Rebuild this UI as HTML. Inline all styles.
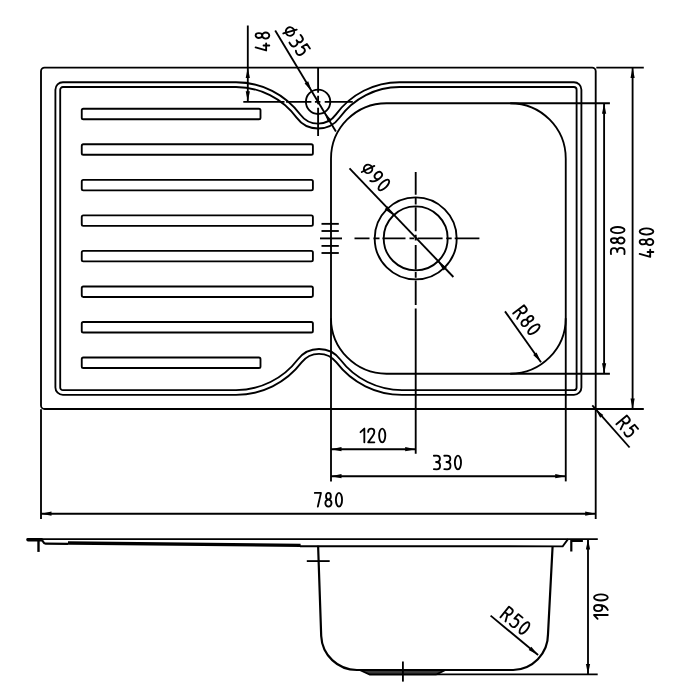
<!DOCTYPE html>
<html><head><meta charset="utf-8"><title>Sink drawing</title>
<style>
html,body{margin:0;padding:0;background:#fff;font-family:"Liberation Sans",sans-serif;}
svg{display:block}
svg *{fill:none;stroke:#000;stroke-width:1.85}
svg .f{fill:#000;stroke:none}
svg .w{stroke-width:2.2}
svg .t path{stroke-width:1.350;stroke-linecap:round;stroke-linejoin:round}
</style></head><body>
<svg width="700" height="700" viewBox="0 0 700 700">
<rect x="0" y="0" width="700" height="700" style="fill:#fff;stroke:none"/>
<path d="M44.60,67.60 L592.10,67.60 A3.60,3.60 0 0 1 595.70,71.20 L595.70,409.00 L44.60,409.00 A3.60,3.60 0 0 1 41.00,405.40 L41.00,71.20 A3.60,3.60 0 0 1 44.60,67.60 Z"/>
<rect x="331.00" y="103.20" width="234.75" height="270.50" rx="55.50" ry="55.50"/>
<path d="M55.40,89.70 A7.50,7.50 0 0 1 62.90,82.20 L236.00,82.20 A80.06,80.06 0 0 1 300.47,114.79 A21.90,21.90 0 0 0 335.82,114.66 A78.68,78.68 0 0 1 399.50,82.20 L573.90,82.20 A7.50,7.50 0 0 1 581.40,89.70 L581.40,387.40 A7.50,7.50 0 0 1 573.90,394.90 L402.00,394.90 A82.46,82.46 0 0 1 336.42,362.43 A21.90,21.90 0 0 0 301.58,362.43 A82.46,82.46 0 0 1 236.00,394.90 L62.90,394.90 A7.50,7.50 0 0 1 55.40,387.40 Z"/>
<path d="M60.20,89.70 A2.70,2.70 0 0 1 62.90,87.00 L236.00,87.00 A75.26,75.26 0 0 1 296.60,117.63 A26.70,26.70 0 0 0 339.71,117.48 A73.88,73.88 0 0 1 399.50,87.00 L573.90,87.00 A2.70,2.70 0 0 1 576.60,89.70 L576.60,387.40 A2.70,2.70 0 0 1 573.90,390.10 L402.00,390.10 A77.66,77.66 0 0 1 340.24,359.52 A26.70,26.70 0 0 0 297.76,359.52 A77.66,77.66 0 0 1 236.00,390.10 L62.90,390.10 A2.70,2.70 0 0 1 60.20,387.40 Z"/>
<rect x="81.75" y="108.75" width="178.75" height="10.5" rx="1.6" ry="1.6"/>
<rect x="81.75" y="144.29" width="231.15" height="10.5" rx="1.6" ry="1.6"/>
<rect x="81.75" y="179.83" width="231.15" height="10.5" rx="1.6" ry="1.6"/>
<rect x="81.75" y="215.37" width="231.15" height="10.5" rx="1.6" ry="1.6"/>
<rect x="81.75" y="250.91" width="231.15" height="10.5" rx="1.6" ry="1.6"/>
<rect x="81.75" y="286.45" width="231.15" height="10.5" rx="1.6" ry="1.6"/>
<rect x="81.75" y="321.99" width="231.15" height="10.5" rx="1.6" ry="1.6"/>
<rect x="81.75" y="357.53" width="178.75" height="10.5" rx="1.6" ry="1.6"/>
<circle cx="318.10" cy="101.80" r="12.2"/>
<path d="M243.30,101.80 L352.80,101.80" stroke-dasharray="41.2 1.6 25.3 3.5 5.5 4.3 100"/>
<path d="M318.10,67.60 L318.10,136.00" stroke-dasharray="25.1 3 8.6 3.4 100"/>
<circle cx="415.70" cy="238.40" r="41.0"/>
<circle cx="415.70" cy="238.40" r="32.0"/>
<path d="M354.50,238.40 L479.40,238.40" stroke-dasharray="15 4 6 3 23 4 4.7 3.4 25 3.6 5.5 3 100"/>
<path d="M415.70,171.90 L415.70,453.80" stroke-dasharray="22.8 2.9 6.8 2.9 24 3.4 5.9 4.5 24.6 2.3 5.7 2.9 24.5 3.5 300"/>
<path d="M321.50,223.85 L338.80,223.85"/>
<path d="M321.50,231.00 L338.80,231.00"/>
<path d="M320.00,238.40 L342.00,238.40"/>
<path d="M321.50,245.90 L338.80,245.90"/>
<path d="M321.50,253.00 L338.80,253.00"/>
<path d="M247.80,25.50 L247.80,101.80"/>
<path class="f" d="M247.80,67.60 L249.90,78.10 L245.70,78.10 Z"/>
<path class="f" d="M247.80,101.80 L245.70,91.30 L249.90,91.30 Z"/>
<g class="t" transform="translate(269.30,50.45) rotate(-90.00) scale(1.3700)"><path transform="translate(0.000,-10)" d="M2.2,0 L0,7.7 L5.2,7.7 M3.6,5.8 L3.6,10"/><path transform="translate(8.600,-10)" d="M2.25,4.8 A1.75,2.4 0 1 1 2.25,0 A1.75,2.4 0 1 1 2.25,4.8 A2.25,2.6 0 1 1 2.25,10 A2.25,2.6 0 1 1 2.25,4.8 Z"/></g>
<path d="M275.20,30.60 L335.90,131.40"/>
<path class="f" d="M311.80,91.35 L304.58,83.45 L308.17,81.28 Z"/>
<path class="f" d="M324.40,112.25 L331.62,120.15 L328.03,122.32 Z"/>
<g class="t" transform="translate(281.95,31.90) rotate(55.50) scale(1.3700)"><path transform="translate(0.000,-10)" d="M0,5 A3.1,3.1 0 1 1 6.2,5 A3.1,3.1 0 1 1 0,5 Z M4.72,0.16 L1.48,9.84"/><path transform="translate(9.500,-10)" d="M0,0.1 C0.5,0 1.2,0 2,0 C3.5,0 4.4,1 4.4,2.35 C4.4,3.7 3.5,4.7 1.6,4.7 C3.6,4.7 4.5,5.8 4.5,7.35 C4.5,9 3.5,10 2,10 C1.2,10 0.5,10 0,9.9"/><path transform="translate(17.100,-10)" d="M4.4,0 L0.5,0 L0.2,4.3 C0.9,3.7 1.6,3.5 2.3,3.5 C3.7,3.5 4.6,4.8 4.6,6.6 C4.6,8.6 3.7,10 2.2,10 C1.3,10 0.6,9.8 0,9.4"/></g>
<path d="M349.50,168.30 L453.40,277.00"/>
<path class="f" d="M393.47,215.38 L384.67,209.29 L387.69,206.37 Z"/>
<path class="f" d="M437.93,261.42 L446.73,267.51 L443.71,270.43 Z"/>
<g class="t" transform="translate(360.20,170.70) rotate(45.50) scale(1.3700)"><path transform="translate(0.000,-10)" d="M0,5 A3.1,3.1 0 1 1 6.2,5 A3.1,3.1 0 1 1 0,5 Z M4.72,0.16 L1.48,9.84"/><path transform="translate(9.500,-10)" d="M4.5,3 C4.5,4.8 3.6,6 2.25,6 C0.9,6 0,4.8 0,3 C0,1.2 0.9,0 2.25,0 C3.6,0 4.5,1.2 4.5,3 C4.5,6 3.5,8.8 0.9,10"/><path transform="translate(17.200,-10)" d="M0.1,5 A2.25,5 0 1 1 4.6,5 A2.25,5 0 1 1 0.1,5 Z"/></g>
<path d="M596.30,67.60 L643.80,67.60"/>
<path d="M595.70,409.00 L643.80,409.00"/>
<path d="M510.25,103.20 L609.90,103.20"/>
<path d="M510.25,373.70 L609.90,373.70"/>
<path d="M604.10,103.20 L604.10,373.70"/>
<path class="f" d="M604.10,103.20 L606.20,113.70 L602.00,113.70 Z"/>
<path class="f" d="M604.10,373.70 L602.00,363.20 L606.20,363.20 Z"/>
<path d="M632.60,67.60 L632.60,409.00"/>
<path class="f" d="M632.60,67.60 L634.70,78.10 L630.50,78.10 Z"/>
<path class="f" d="M632.60,409.00 L630.50,398.50 L634.70,398.50 Z"/>
<g class="t" transform="translate(624.55,254.10) rotate(-90.00) scale(1.3700)"><path transform="translate(0.000,-10)" d="M0,0.1 C0.5,0 1.2,0 2,0 C3.5,0 4.4,1 4.4,2.35 C4.4,3.7 3.5,4.7 1.6,4.7 C3.6,4.7 4.5,5.8 4.5,7.35 C4.5,9 3.5,10 2,10 C1.2,10 0.5,10 0,9.9"/><path transform="translate(7.600,-10)" d="M2.25,4.8 A1.75,2.4 0 1 1 2.25,0 A1.75,2.4 0 1 1 2.25,4.8 A2.25,2.6 0 1 1 2.25,10 A2.25,2.6 0 1 1 2.25,4.8 Z"/><path transform="translate(15.200,-10)" d="M0.1,5 A2.25,5 0 1 1 4.6,5 A2.25,5 0 1 1 0.1,5 Z"/></g>
<g class="t" transform="translate(653.35,256.90) rotate(-90.00) scale(1.3700)"><path transform="translate(0.000,-10)" d="M2.2,0 L0,7.7 L5.2,7.7 M3.6,5.8 L3.6,10"/><path transform="translate(8.600,-10)" d="M2.25,4.8 A1.75,2.4 0 1 1 2.25,0 A1.75,2.4 0 1 1 2.25,4.8 A2.25,2.6 0 1 1 2.25,10 A2.25,2.6 0 1 1 2.25,4.8 Z"/><path transform="translate(16.200,-10)" d="M0.1,5 A2.25,5 0 1 1 4.6,5 A2.25,5 0 1 1 0.1,5 Z"/></g>
<path d="M505.00,311.40 L541.00,362.30"/>
<path class="f" d="M541.00,362.30 L533.18,354.98 L536.60,352.54 Z"/>
<g class="t" transform="translate(513.20,313.60) rotate(52.50) scale(1.3700)"><path transform="translate(0.000,-10)" d="M0,10 L0,0 L2.4,0 C3.8,0 4.6,1 4.6,2.5 C4.6,4 3.8,5 2.4,5 L0,5 M2.6,5 L4.8,10"/><path transform="translate(8.300,-10)" d="M2.25,4.8 A1.75,2.4 0 1 1 2.25,0 A1.75,2.4 0 1 1 2.25,4.8 A2.25,2.6 0 1 1 2.25,10 A2.25,2.6 0 1 1 2.25,4.8 Z"/><path transform="translate(15.900,-10)" d="M0.1,5 A2.25,5 0 1 1 4.6,5 A2.25,5 0 1 1 0.1,5 Z"/></g>
<path d="M592.30,405.40 L629.60,447.50"/>
<path class="f" d="M595.90,409.80 L603.33,414.96 L600.20,417.76 Z"/>
<g class="t" transform="translate(616.40,424.30) rotate(50.00) scale(1.3700)"><path transform="translate(0.000,-10)" d="M0,10 L0,0 L2.4,0 C3.8,0 4.6,1 4.6,2.5 C4.6,4 3.8,5 2.4,5 L0,5 M2.6,5 L4.8,10"/><path transform="translate(8.300,-10)" d="M4.4,0 L0.5,0 L0.2,4.3 C0.9,3.7 1.6,3.5 2.3,3.5 C3.7,3.5 4.6,4.8 4.6,6.6 C4.6,8.6 3.7,10 2.2,10 C1.3,10 0.6,9.8 0,9.4"/></g>
<path d="M331.00,318.20 L331.00,481.40"/>
<path d="M565.75,318.20 L565.75,481.40"/>
<path d="M41.00,409.30 L41.00,519.00"/>
<path d="M595.70,409.00 L595.70,519.00"/>
<path d="M331.00,449.20 L415.70,449.20"/>
<path class="f" d="M331.00,449.20 L341.50,447.10 L341.50,451.30 Z"/>
<path class="f" d="M415.70,449.20 L405.20,451.30 L405.20,447.10 Z"/>
<g class="t" transform="translate(360.50,442.30) rotate(0.00) scale(1.3700)"><path transform="translate(0.000,-10)" d="M0,2.6 L2.8,0 L2.8,10"/><path transform="translate(5.600,-10)" d="M0,2.4 C0,0.9 1,0 2.25,0 C3.5,0 4.5,0.9 4.5,2.4 C4.5,3.6 4,4.5 3.2,5.6 L0,10 L4.5,10"/><path transform="translate(13.500,-10)" d="M0.1,5 A2.25,5 0 1 1 4.6,5 A2.25,5 0 1 1 0.1,5 Z"/></g>
<path d="M331.00,476.20 L565.75,476.20"/>
<path class="f" d="M331.00,476.20 L341.50,474.10 L341.50,478.30 Z"/>
<path class="f" d="M565.75,476.20 L555.25,478.30 L555.25,474.10 Z"/>
<g class="t" transform="translate(433.90,469.30) rotate(0.00) scale(1.3700)"><path transform="translate(0.000,-10)" d="M0,0.1 C0.5,0 1.2,0 2,0 C3.5,0 4.4,1 4.4,2.35 C4.4,3.7 3.5,4.7 1.6,4.7 C3.6,4.7 4.5,5.8 4.5,7.35 C4.5,9 3.5,10 2,10 C1.2,10 0.5,10 0,9.9"/><path transform="translate(7.600,-10)" d="M0,0.1 C0.5,0 1.2,0 2,0 C3.5,0 4.4,1 4.4,2.35 C4.4,3.7 3.5,4.7 1.6,4.7 C3.6,4.7 4.5,5.8 4.5,7.35 C4.5,9 3.5,10 2,10 C1.2,10 0.5,10 0,9.9"/><path transform="translate(15.200,-10)" d="M0.1,5 A2.25,5 0 1 1 4.6,5 A2.25,5 0 1 1 0.1,5 Z"/></g>
<path d="M41.00,513.70 L595.70,513.70"/>
<path class="f" d="M41.00,513.70 L51.50,511.60 L51.50,515.80 Z"/>
<path class="f" d="M595.70,513.70 L585.20,515.80 L585.20,511.60 Z"/>
<g class="t" transform="translate(314.80,506.60) rotate(0.00) scale(1.3700)"><path transform="translate(0.000,-10)" d="M0,0 L4.5,0 L2.2,10"/><path transform="translate(7.700,-10)" d="M2.25,4.8 A1.75,2.4 0 1 1 2.25,0 A1.75,2.4 0 1 1 2.25,4.8 A2.25,2.6 0 1 1 2.25,10 A2.25,2.6 0 1 1 2.25,4.8 Z"/><path transform="translate(15.300,-10)" d="M0.1,5 A2.25,5 0 1 1 4.6,5 A2.25,5 0 1 1 0.1,5 Z"/></g>
<path d="M26.70,539.10 L597.80,539.10" style="stroke-width:1.9"/>
<path d="M38.50,539.10 L38.50,551.90" style="stroke-width:2.4"/>
<path d="M28.00,539.80 L41.50,539.80" style="stroke-width:3.4;stroke-linecap:round"/>
<path style="stroke-width:2.2" d="M41.0,539.60 C43,539.60 43,543.7 45.5,543.7 L68,543.9"/>
<path d="M300,546.2 L562.7,546.3 L568.0,539.10"/>
<path class="f" d="M68,541.2 L300.6,543.7 L300.6,547.0 L68,544.8 Z"/>
<path class="w" d="M582.9,540.8 L571.3,540.8 L571.3,551.5"/>
<path class="w" d="M318.1,545.8 L321.2,636.0 A35.7,35.7 0 0 0 356.9,670.0 L513.2,670.0 A35.7,35.7 0 0 0 548.0,634.3 L552.6,546.3"/>
<path d="M306.80,561.10 L329.70,561.10"/>
<path d="M359.7,670 L369.8,674.5 L436.2,674.5 L445.4,670 Z" style="fill:#3a3a3a"/>
<path d="M402.90,661.50 L402.90,681.60"/>
<path d="M437.00,674.40 L597.70,674.40"/>
<path d="M588.00,539.10 L588.00,674.40"/>
<path class="f" d="M588.00,539.10 L590.10,549.60 L585.90,549.60 Z"/>
<path class="f" d="M588.00,674.40 L585.90,663.90 L590.10,663.90 Z"/>
<g class="t" transform="translate(607.75,618.85) rotate(-90.00) scale(1.3700)"><path transform="translate(0.000,-10)" d="M0,2.6 L2.8,0 L2.8,10"/><path transform="translate(5.600,-10)" d="M4.5,3 C4.5,4.8 3.6,6 2.25,6 C0.9,6 0,4.8 0,3 C0,1.2 0.9,0 2.25,0 C3.6,0 4.5,1.2 4.5,3 C4.5,6 3.5,8.8 0.9,10"/><path transform="translate(13.300,-10)" d="M0.1,5 A2.25,5 0 1 1 4.6,5 A2.25,5 0 1 1 0.1,5 Z"/></g>
<path d="M490.60,615.60 L538.10,655.00"/>
<path class="f" d="M538.10,655.00 L528.68,649.91 L531.36,646.68 Z"/>
<g class="t" transform="translate(500.40,617.30) rotate(39.00) scale(1.3700)"><path transform="translate(0.000,-10)" d="M0,10 L0,0 L2.4,0 C3.8,0 4.6,1 4.6,2.5 C4.6,4 3.8,5 2.4,5 L0,5 M2.6,5 L4.8,10"/><path transform="translate(8.300,-10)" d="M4.4,0 L0.5,0 L0.2,4.3 C0.9,3.7 1.6,3.5 2.3,3.5 C3.7,3.5 4.6,4.8 4.6,6.6 C4.6,8.6 3.7,10 2.2,10 C1.3,10 0.6,9.8 0,9.4"/><path transform="translate(16.200,-10)" d="M0.1,5 A2.25,5 0 1 1 4.6,5 A2.25,5 0 1 1 0.1,5 Z"/></g>
</svg>
</body></html>
